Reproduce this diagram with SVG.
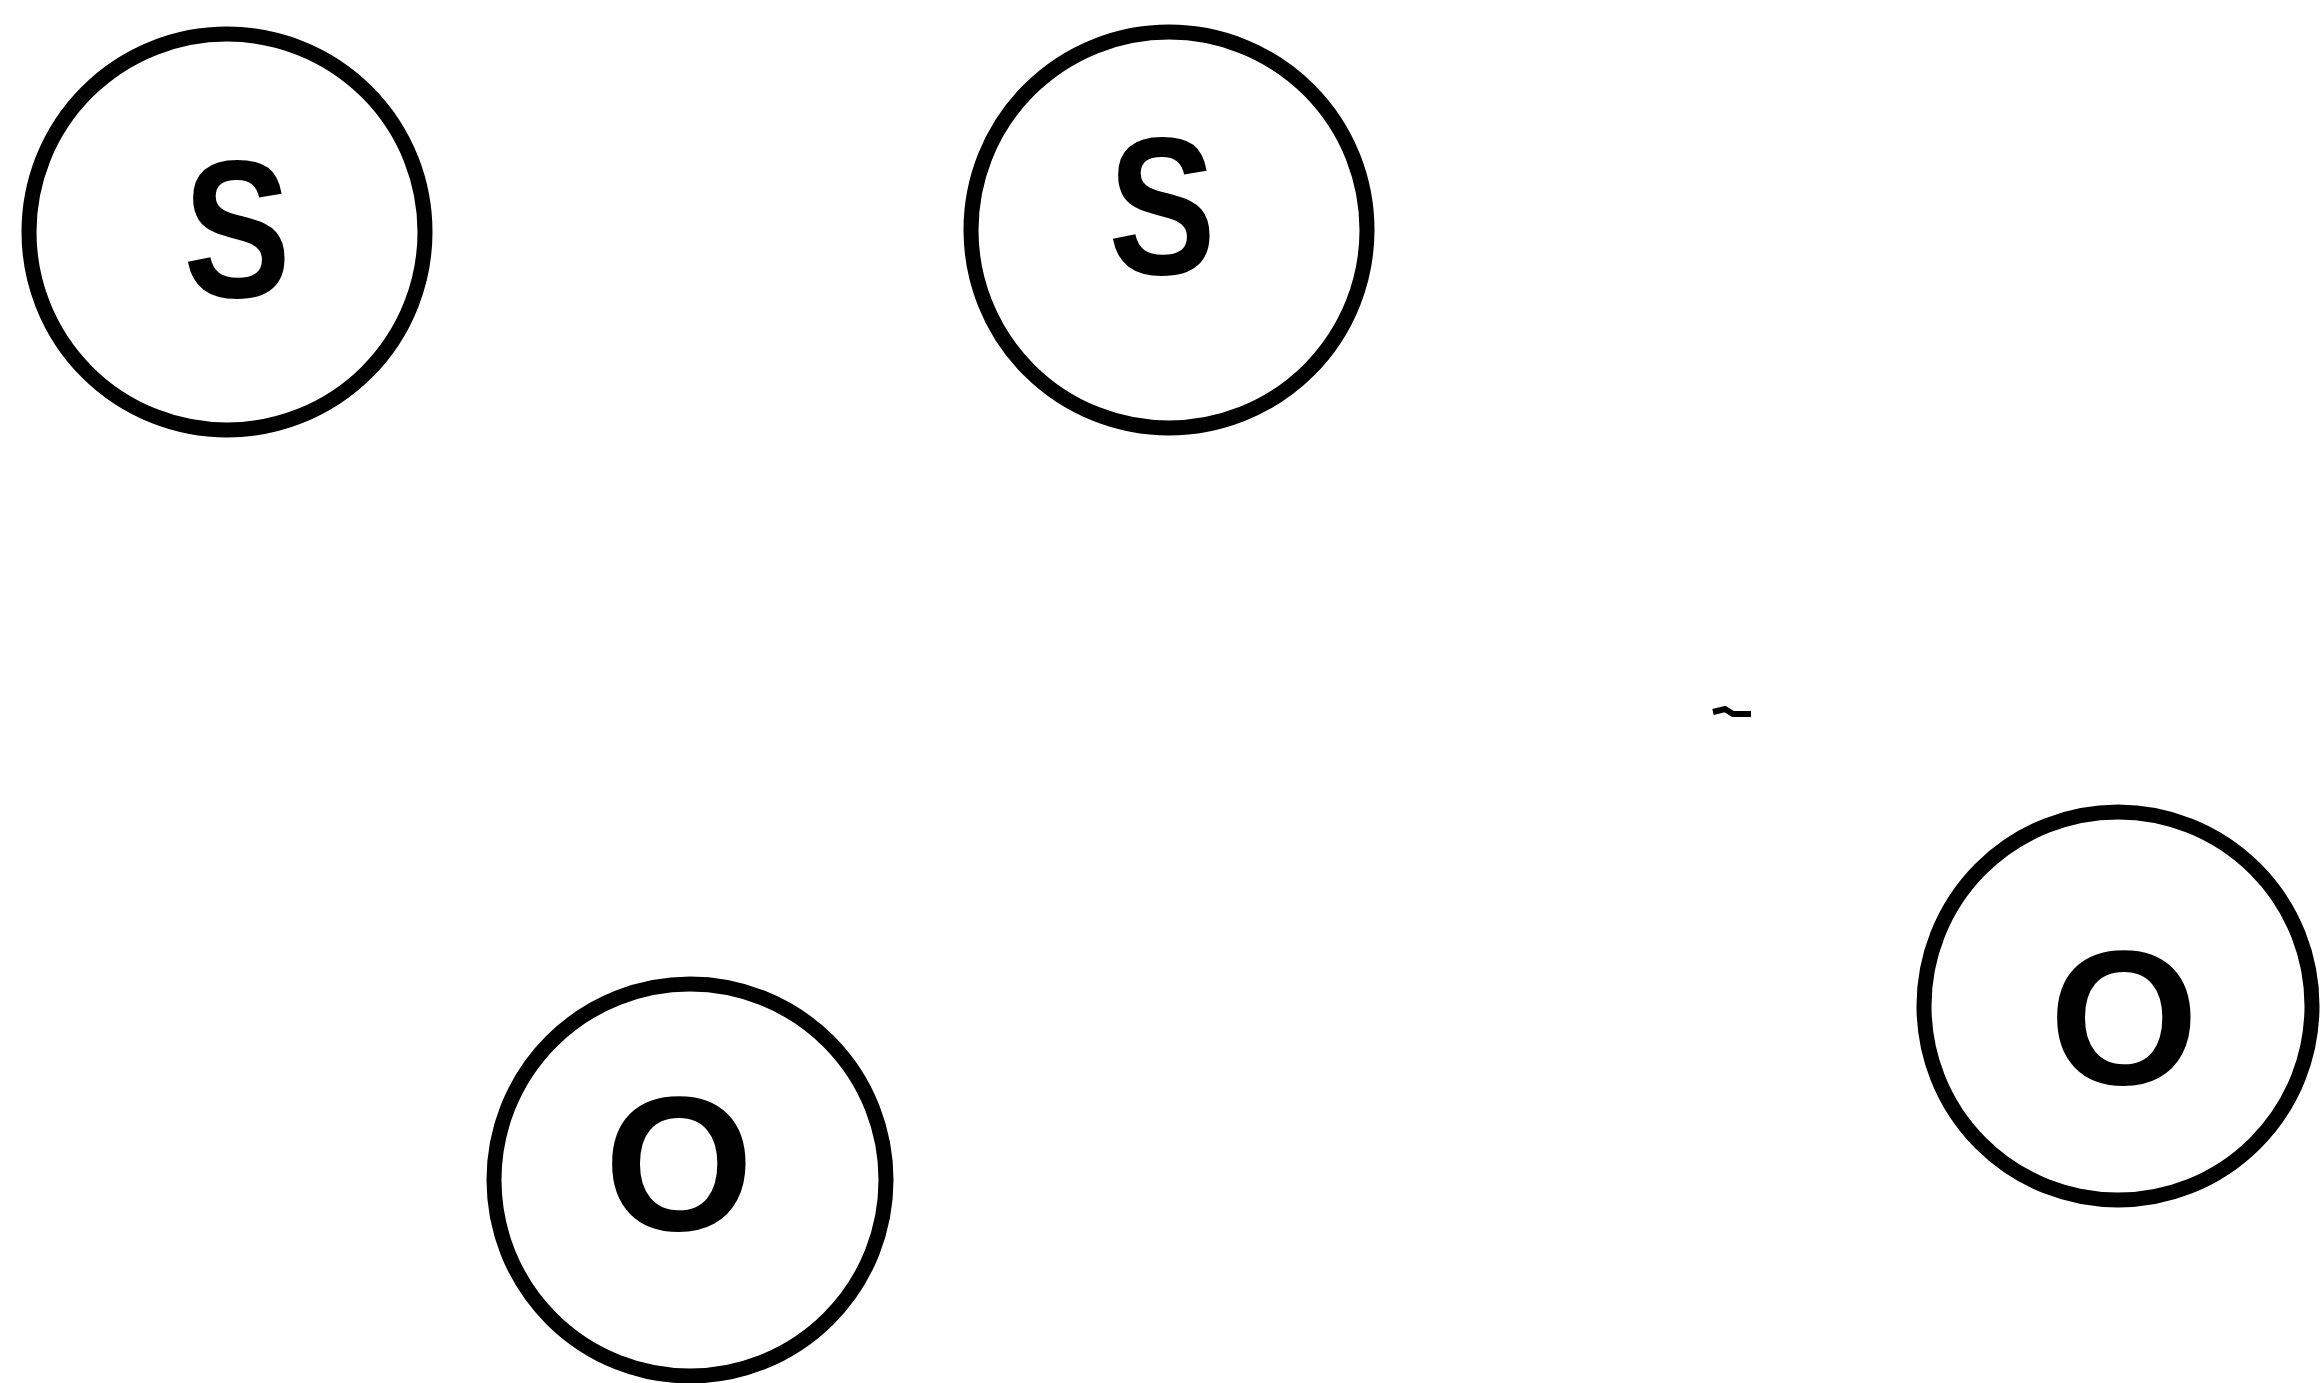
<svg xmlns="http://www.w3.org/2000/svg" width="2322" height="1383" viewBox="0 0 2322 1383">
<style>
.ring{fill:none;stroke:#000;stroke-width:15}
.lbl{font-family:"Liberation Sans",Arial,sans-serif;font-weight:bold;font-size:192px;fill:#000;text-anchor:middle}
</style>
<rect width="2322" height="1383" fill="#fff"/>
<g id="connectors"></g>
<g id="node-s1"><circle class="ring" cx="227" cy="232" r="198"/><text class="lbl" transform="translate(237 297) scale(0.84 1.02)">S</text></g>
<g id="node-s2"><circle class="ring" cx="1169" cy="230" r="198"/><text class="lbl" transform="translate(1162 274) scale(0.84 1.02)">S</text></g>
<g id="node-o1"><circle class="ring" cx="690" cy="1180" r="196"/><text class="lbl" x="679" y="1230">O</text></g>
<g id="node-o2"><circle class="ring" cx="2118" cy="1006" r="194"/><text class="lbl" x="2124" y="1084">O</text></g>
<path d="M1713 712 L1725 709 L1733 714 L1751 714" fill="none" stroke="#000" stroke-width="6"/>
</svg>
